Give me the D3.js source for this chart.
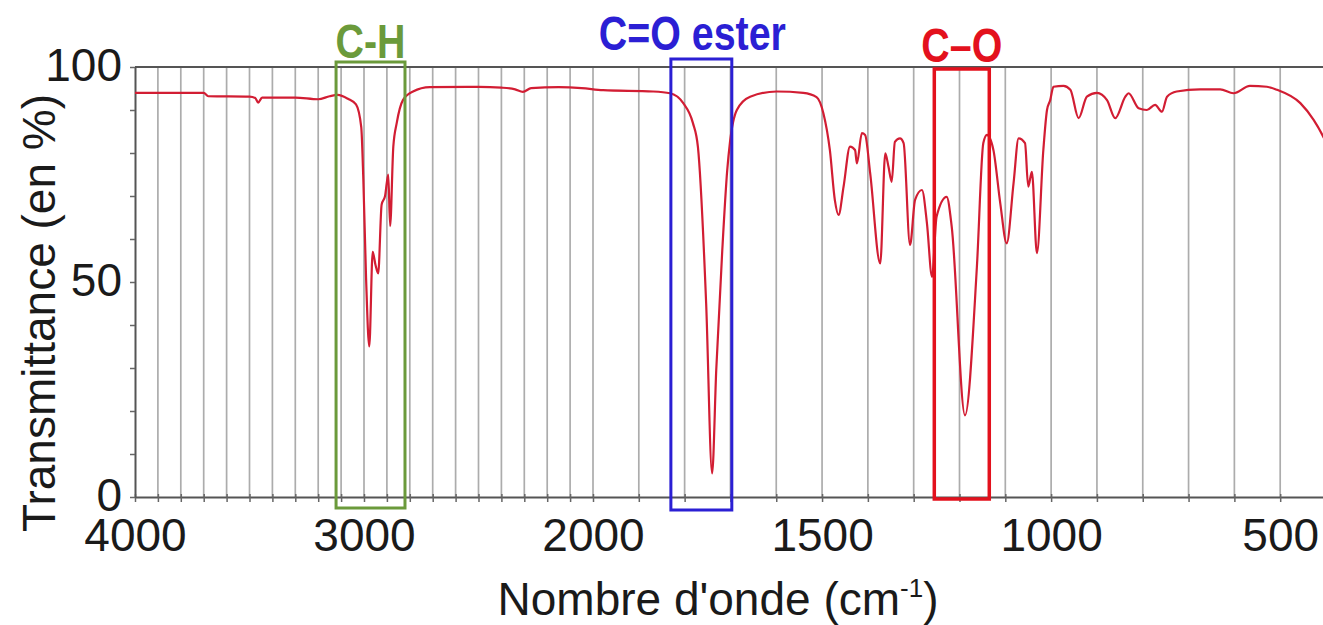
<!DOCTYPE html>
<html>
<head>
<meta charset="utf-8">
<script src="https://cdn.jsdelivr.net/npm/d3@7"></script>
<style>
  body { margin: 0; background: #fff; }
  svg { display: block; font-family: "Liberation Sans", Arial, Helvetica, sans-serif; }
</style>
</head>
<body>
<div id="chart"></div>
<script>
// IR spectrum (wavenumber in cm-1, transmittance in %)
var wavenumber = [4000, 3700, 3680, 3500, 3475, 3462, 3445, 3300, 3200, 3150, 3115, 3070, 3035, 3012, 3003,
  2991, 2977, 2962, 2950, 2938, 2923, 2908, 2894, 2886, 2872, 2857, 2830, 2786, 2712, 2500,
  2400, 2340, 2306, 2270, 2150, 2050, 1978, 1869, 1832, 1803, 1782, 1771, 1753, 1740, 1731,
  1718, 1707, 1701, 1686, 1657, 1599, 1541, 1512, 1497, 1483, 1472, 1464, 1453, 1439, 1428,
  1424, 1413, 1406, 1395, 1373, 1362, 1355, 1348, 1341, 1330, 1322, 1308, 1297, 1282, 1271,
  1260, 1250, 1228, 1217, 1188, 1162, 1148, 1140, 1126, 1111, 1097, 1082, 1071, 1057, 1050,
  1042, 1031, 1017, 1009, 1002, 995, 973, 958, 940, 922, 900, 878, 860, 838, 831,
  809, 791, 773, 758, 747, 726, 675, 631, 602, 566, 529, 507, 456, 427, 406, 400];
var transmittance = [94, 94, 93.2, 93.1, 92.8, 91.7, 92.9, 92.9, 92.5, 93.2, 93.5, 92.6, 91.3, 86, 74,
  51, 35, 57, 54, 52, 68, 70, 75, 63, 81.5, 87, 92.3, 94.3, 95.3, 95.4,
  95.2, 94.8, 94.2, 95.1, 95.3, 95.1, 94.6, 94.3, 93.9, 91.6, 87, 81.4, 45, 5.5, 29.5,
  57, 76, 82.5, 90, 93.1, 94.3, 94, 93, 89.2, 80.7, 69, 65.6, 72.2, 81.5, 80.7,
  77.6, 84.6, 84.2, 75.3, 54.3, 79.9, 76.8, 73.3, 82.6, 83.4, 82.3, 58.6, 69.1, 71.4, 63.6,
  51.2, 65.2, 69.8, 62.9, 19, 53.6, 82.3, 84.2, 80.7, 68.3, 59, 73, 83.4, 82.3, 72.2,
  75.6, 56.7, 80.7, 90, 92.3, 95.4, 95.6, 94.7, 88.1, 93.1, 94, 92.3, 88.1, 93.1, 93.9,
  90.4, 90, 91.2, 89.6, 93.1, 94.3, 94.8, 94.8, 93.9, 95.6, 95.4, 94.7, 91.6, 87.7, 83.8, 82.5];

var xTickValues = [4000, 3000, 2000, 1500, 1000, 500];
var yTickValues = [0, 50, 100];

// highlighted bands
var bandNames = ["C-H", "C=O ester", "C\u2013O"];
var bandFrom = [3122, 1830, 1255];
var bandTo = [2821, 1697, 1135];

var bandStyle = [
  {color: "#6b9a3b", width: 3, top: -5, bottom: 11, dx: 0, labelY: 58},
  {color: "#2b1fd4", width: 3, top: -8, bottom: 13, dx: -9, labelY: 50},
  {color: "#e3111d", width: 3.5, top: 2, bottom: 2, dx: 0, labelY: 62}
];

var width = 1323, height = 625;
var plot = {left: 135, right: 1326, top: 67, bottom: 497};

// the spectrum axis changes scale at 2000 cm-1
var x = d3.scaleLinear().domain([4000, 2000, 400]).range([plot.left, 593, plot.right]);
var y = d3.scaleLinear().domain([0, 100]).range([plot.bottom, plot.top]);

var svg = d3.select("#chart").append("svg")
    .attr("width", width)
    .attr("height", height);

// vertical gridlines, every 100 cm-1
svg.append("g")
    .selectAll("line")
    .data(d3.range(3900, 399, -100))
    .enter().append("line")
    .attr("x1", function(d) { return x(d); })
    .attr("x2", function(d) { return x(d); })
    .attr("y1", plot.top)
    .attr("y2", plot.bottom)
    .attr("stroke", "#acacac")
    .attr("stroke-width", 1.7);

// top frame line
svg.append("line")
    .attr("x1", plot.left).attr("x2", width)
    .attr("y1", plot.top).attr("y2", plot.top)
    .attr("stroke", "#555").attr("stroke-width", 2);

// AXIS
var xAxis = svg.append("g")
    .attr("transform", "translate(0," + plot.bottom + ")")
    .call(d3.axisBottom(x)
        .tickValues(d3.range(4000, 399, -100))
        .tickSize(5)
        .tickSizeOuter(0)
        .tickPadding(16)
        .tickFormat(function(d) { return xTickValues.indexOf(d) >= 0 ? d : ""; })
    );
xAxis.select(".domain").attr("stroke", "#555").attr("stroke-width", 2);
xAxis.selectAll(".tick line").attr("stroke", "#666").attr("stroke-width", 1.5).attr("y1", -3);
xAxis.selectAll(".tick text")
    .attr("font-size", "46px")
    .attr("font-family", "'Liberation Sans', Arial, sans-serif")
    .attr("fill", "#1a1a1a");

var yAxis = svg.append("g")
    .attr("transform", "translate(" + plot.left + ",0)")
    .call(d3.axisLeft(y)
        .tickValues(d3.range(0, 101, 10))
        .tickSize(5)
        .tickSizeOuter(0)
        .tickPadding(8)
        .tickFormat(function(d) { return yTickValues.indexOf(d) >= 0 ? d : ""; })
    );
yAxis.select(".domain").attr("stroke", "#555").attr("stroke-width", 2);
yAxis.selectAll(".tick line").attr("stroke", "#666").attr("stroke-width", 1.5);
yAxis.selectAll(".tick text")
    .attr("font-size", "46px")
    .attr("dy", "0.3em")
    .attr("font-family", "'Liberation Sans', Arial, sans-serif")
    .attr("fill", "#1a1a1a");

// spectrum
var valueline = d3.line()
    .x(function(i) { return x(wavenumber[i]); })
    .y(function(i) { return y(transmittance[i]); })
    .curve(d3.curveMonotoneX);

svg.append("path")
    .datum(d3.range(wavenumber.length))
    .attr("d", valueline)
    .attr("fill", "none")
    .attr("stroke", "#d21d33")
    .attr("stroke-width", 2.2)
    .attr("stroke-linejoin", "round");

// band boxes + labels (labels drawn narrow, like a condensed bold face)
bandNames.forEach(function(name, i) {
  var s = bandStyle[i];
  var x0 = x(bandFrom[i]), x1 = x(bandTo[i]);
  svg.append("rect")
      .attr("x", x0)
      .attr("y", plot.top + s.top)
      .attr("width", x1 - x0)
      .attr("height", (plot.bottom + s.bottom) - (plot.top + s.top))
      .attr("fill", "none")
      .attr("stroke", s.color)
      .attr("stroke-width", s.width);
  svg.append("text")
      .attr("transform", "translate(" + ((x0 + x1) / 2 + s.dx) + "," + s.labelY + ") scale(0.82,1)")
      .attr("text-anchor", "middle")
      .attr("font-family", "'Liberation Sans', Arial, sans-serif")
      .attr("font-weight", "bold")
      .attr("font-size", "48px")
      .attr("fill", s.color)
      .text(name);
});

// axis titles
var xTitle = svg.append("text")
    .attr("x", 718)
    .attr("y", 615)
    .attr("text-anchor", "middle")
    .attr("font-size", "46px")
    .attr("fill", "#1a1a1a");
xTitle.append("tspan").text("Nombre d'onde (cm");
xTitle.append("tspan").attr("font-size", "26px").attr("dy", -18).text("-1");
xTitle.append("tspan").attr("dy", 18).text(")");

svg.append("text")
    .attr("transform", "translate(55,313) rotate(-90)")
    .attr("text-anchor", "middle")
    .attr("font-size", "46px")
    .attr("fill", "#1a1a1a")
    .text("Transmittance (en %)");
</script>
</body>
</html>
